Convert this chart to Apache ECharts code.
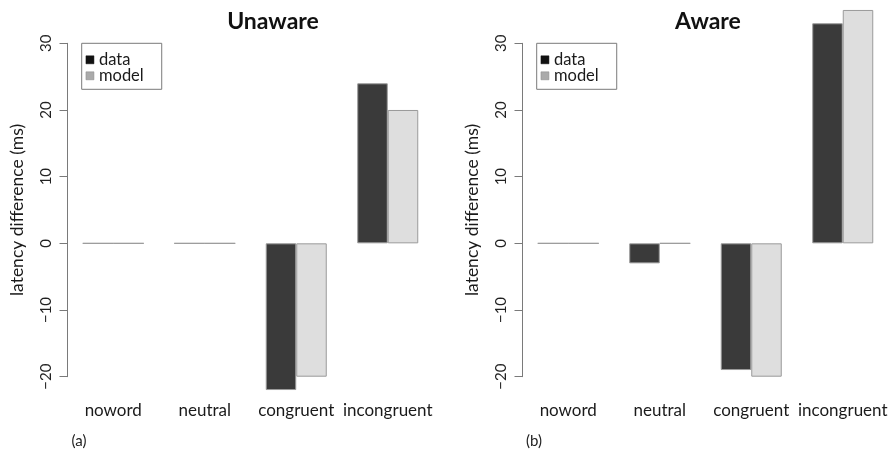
<!DOCTYPE html>
<html>
<head>
<meta charset="utf-8">
<script src="https://cdn.jsdelivr.net/npm/echarts@6/dist/echarts.min.js"></script>
<style>
  html, body { margin: 0; padding: 0; background: #fff; }
  #chart { width: 895px; height: 451px; }
</style>
</head>
<body>
<div id="chart"></div>
<script>
// Conditions on the category axis
const categories = ['noword', 'neutral', 'congruent', 'incongruent'];

// Latency differences (ms), unaware participants
const unawareData  = [0, 0, -22, 24];
const unawareModel = [0, 0, -20, 20];

// Latency differences (ms), aware participants
const awareData  = [0, -3, -19, 33];
const awareModel = [0, 0, -20, 35];

// Value axis range and tick step
const yMin = -20, yMax = 30, yStep = 10;

const FONT = 'Lato, "Open Sans", sans-serif';
const DARK = '#3a3a3a', LIGHT = '#dedede', EDGE = '#9a9a9a', AXIS = '#7a7a7a';

const chart = echarts.init(document.getElementById('chart'), null, { renderer: 'canvas' });

const grids = [
  { left: 67.5, top: 43.3, width: 366, height: 333.4 },
  { left: 522.5, top: 43.3, width: 366, height: 333.4 }
];

function xAxis(i) {
  return {
    type: 'category', gridIndex: i, data: categories,
    axisLine: { show: false }, axisTick: { show: false },
    axisLabel: { fontFamily: FONT, fontSize: 17, color: '#1a1a1a', margin: 25, interval: 0 }
  };
}
function yAxis(i) {
  return {
    type: 'value', gridIndex: i, min: yMin, max: yMax, interval: yStep,
    name: 'latency difference (ms)', nameLocation: 'middle', nameRotate: 90, nameGap: 41,
    nameTextStyle: { fontFamily: FONT, fontSize: 17.5, color: '#1a1a1a' },
    axisLine: { show: true, lineStyle: { color: AXIS, width: 1 } },
    axisTick: { show: true, length: 8, lineStyle: { color: AXIS } },
    splitLine: { show: false },
    axisLabel: { fontFamily: FONT, fontSize: 15, color: '#222', rotate: 90, margin: 14,
      formatter: v => (v < 0 ? '\u2212' + Math.abs(v) : String(v)) }
  };
}
function bar(name, data, color, i) {
  return {
    type: 'bar', name: name, data: data, xAxisIndex: i, yAxisIndex: i,
    barGap: '0%', barCategoryGap: '33.33%', clip: false,
    itemStyle: { color: color, borderColor: EDGE, borderWidth: 1 },
    emphasis: { disabled: true }, animation: false
  };
}
function legend(left) {
  return {
    orient: 'vertical', left: left, top: 43.3,
    padding: [8, 18, 5, 4], itemGap: -1, itemWidth: 8, itemHeight: 8,
    borderColor: AXIS, borderWidth: 1, borderRadius: 0,
    icon: 'rect', selectedMode: false,
    textStyle: { fontFamily: FONT, fontSize: 16.5, color: '#1a1a1a', lineHeight: 12 },
    data: [
      { name: 'data', itemStyle: { color: '#111', borderColor: '#111', borderWidth: 0.5 } },
      { name: 'model', itemStyle: { color: '#aaa', borderColor: '#888', borderWidth: 0.5 } }
    ]
  };
}

chart.setOption({
  animation: false,
  grid: grids,
  xAxis: [xAxis(0), xAxis(1)],
  yAxis: [yAxis(0), yAxis(1)],
  legend: [legend(81.7), legend(536.7)],
  series: [
    bar('data', unawareData, DARK, 0),
    bar('model', unawareModel, LIGHT, 0),
    bar('data', awareData, DARK, 1),
    bar('model', awareModel, LIGHT, 1)
  ],
  graphic: [
    { type: 'text', x: 273, y: 22, style: { text: 'Unaware', font: 'bold 23px ' + FONT, fill: '#111', align: 'center', verticalAlign: 'middle' } },
    { type: 'text', x: 708, y: 22, style: { text: 'Aware', font: 'bold 23px ' + FONT, fill: '#111', align: 'center', verticalAlign: 'middle' } },
    { type: 'text', x: 79, y: 441, style: { text: '(a)', font: '15px ' + FONT, fill: '#222', align: 'center', verticalAlign: 'middle' } },
    { type: 'text', x: 534, y: 441, style: { text: '(b)', font: '15px ' + FONT, fill: '#222', align: 'center', verticalAlign: 'middle' } }
  ]
});
</script>
</body>
</html>
